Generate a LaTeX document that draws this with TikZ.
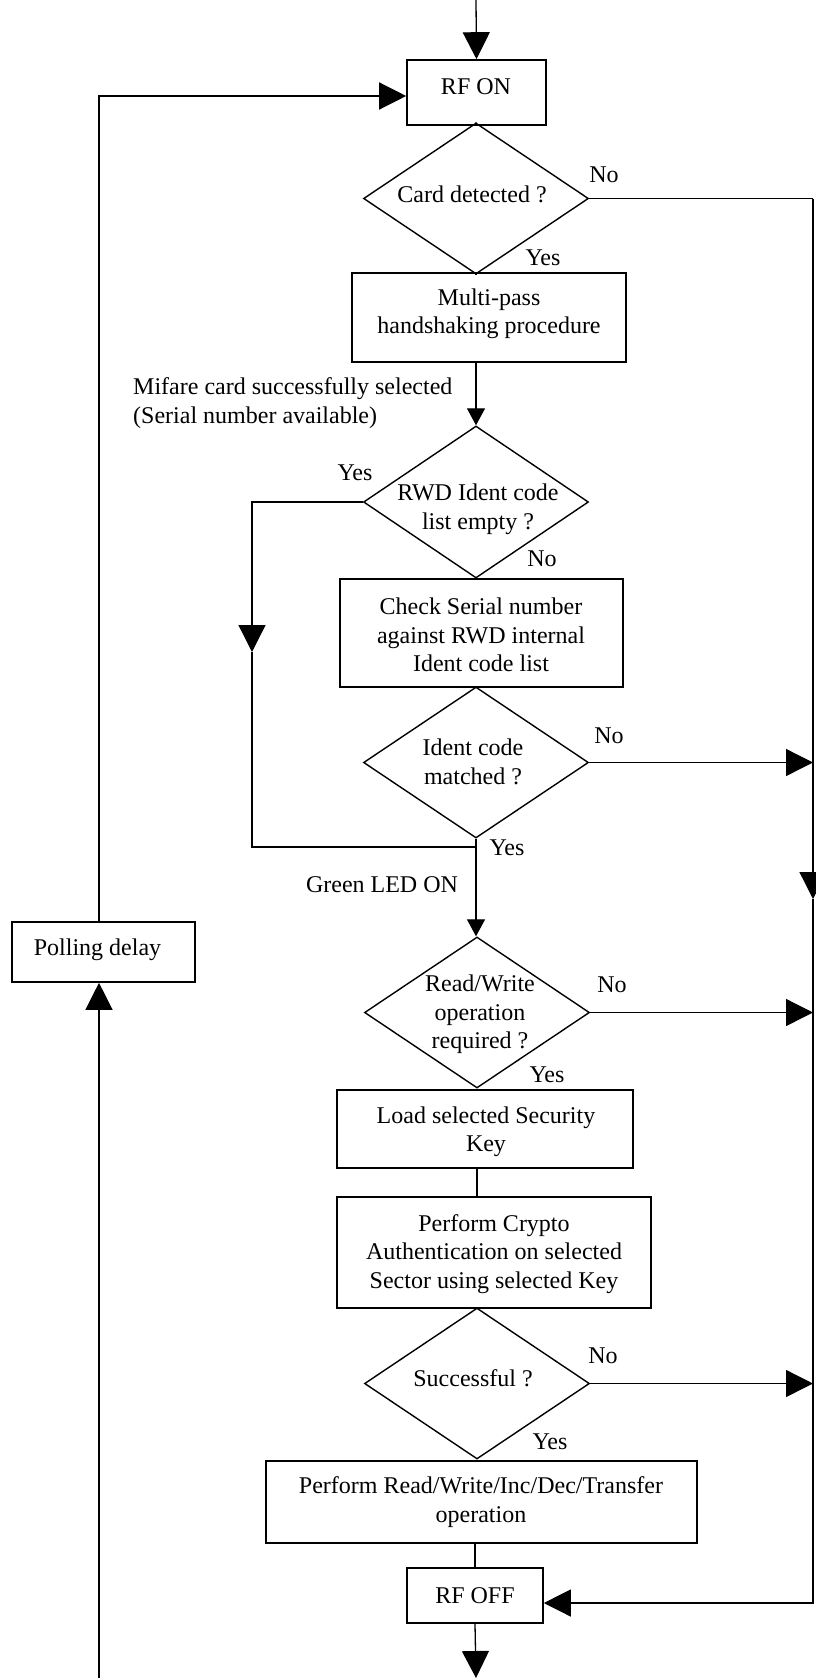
\documentclass[tikz,border=0pt]{standalone}
\usepackage{fontspec}
\setmainfont{Liberation Serif}
\usetikzlibrary{shapes.geometric,arrows.meta}
\tikzset{
  box/.style={draw, line width=1.6pt, rectangle, inner sep=0pt},
  dia/.style={draw, line width=1.4pt, diamond, inner sep=0pt, minimum width=225pt, minimum height=151pt},
  txt/.style={inner sep=0pt, align=center, font=\fontsize{24}{28.5}\selectfont},
  lbl/.style={inner sep=0pt, anchor=base, font=\fontsize{24}{28.5}\selectfont},
  conn/.style={line width=1.3pt},
  bigarr/.style={conn, -{Triangle[length=27pt,width=27pt]}},
  smallarr/.style={conn, -{Triangle[length=17pt,width=18pt]}}
}
\begin{document}
\begin{tikzpicture}[x=1pt,y=-1pt]
\useasboundingbox (0,0) rectangle (816,1678);
% boxes
\node[box, minimum width=139pt, minimum height=65pt] (rfon) at (476.5,92.5) {};
\node[dia] (cardd) at (476,198.5) {};
\node[box, minimum width=274pt, minimum height=89pt] (multi) at (489,317.5) {};
\node[dia, minimum height=152pt] (rwd) at (476,502) {};
\node[box, minimum width=283pt, minimum height=108pt] (check) at (481.5,633) {};
\node[dia] (ident) at (476,762.5) {};
\node[dia] (rw) at (477,1012.5) {};
\node[box, minimum width=296pt, minimum height=78pt] (loadkey) at (485,1129) {};
\node[box, minimum width=314pt, minimum height=111pt] (crypto) at (494,1252.5) {};
\node[dia] (succ) at (477,1383.5) {};
\node[box, minimum width=431pt, minimum height=82pt] (perform) at (481.5,1502) {};
\node[box, minimum width=136pt, minimum height=55pt] (rfoff) at (475,1595.5) {};
\node[box, minimum width=183pt, minimum height=60pt] (polling) at (103.5,952) {};
% texts inside
\node[lbl] (trfon) at (476,94) {RF ON};
\node[lbl] (tcard) at (472,202) {Card detected ?};
\node[txt] (tmulti) at (489,314) {Multi-pass\\handshaking procedure};
\node[txt] (trwd) at (478,509.5) {RWD Ident code\\list empty ?};
\node[txt] (tcheck) at (481,635) {Check Serial number\\against RWD internal\\Ident code list};
\node[txt] (tident) at (473,762) {Ident code\\matched ?};
\node[txt] (trw) at (480,1014.5) {Read/Write\\operation\\required ?};
\node[txt] (tload) at (486,1131.5) {Load selected Security\\Key};
\node[txt] (tcrypto) at (494,1254) {Perform Crypto\\Authentication on selected\\Sector using selected Key};
\node[lbl] (tsucc) at (473,1386) {Successful ?};
\node[txt] (tperform) at (481,1502) {Perform Read/Write/Inc/Dec/Transfer\\operation};
\node[lbl] (trfoff) at (475,1603) {RF OFF};
\node[lbl] (tpoll) at (97.5,955) {Polling delay};
% labels
\node[lbl] (no1) at (604,182) {No};
\node[lbl] (yes1) at (543,265) {Yes};
\node[txt, anchor=west, align=left] (mifare) at (133,403) {Mifare card successfully selected\\(Serial number available)};
\node[lbl] (yes2) at (355,480) {Yes};
\node[lbl] (no2) at (542,566) {No};
\node[lbl] (no3) at (609,743) {No};
\node[lbl] (yes3) at (507,855) {Yes};
\node[lbl] (green) at (382,892) {Green LED ON};
\node[lbl] (no4) at (612,992) {No};
\node[lbl] (yes4) at (547,1082) {Yes};
\node[lbl] (no5) at (603,1363) {No};
\node[lbl] (yes5) at (550,1449) {Yes};
% coordinates
\coordinate (top) at (476,0);
\coordinate (rt) at (813,198.5);
\coordinate (rarr) at (813,899);
\coordinate (rb) at (813,1603);
\coordinate (yl1) at (252,502);
\coordinate (yarr) at (252,652);
\coordinate (yl2) at (252,847);
\coordinate (join) at (476,847);
\coordinate (bot) at (476,1678);
\coordinate (lbot) at (99,1678);
\coordinate (ltop) at (99,96);
% connectors
\draw[bigarr] (top) -- (rfon.north);
\draw[conn] (rfon.south) -- (cardd.north);
\draw[conn] (cardd.south) -- (cardd.south |- multi.north);
\draw[smallarr] (multi.south -| rwd.north) -- (rwd.north);
\draw[conn] (rwd.south) -- (rwd.south |- check.north);
\draw[conn] (check.south -| ident.north) -- (ident.north);
\draw[smallarr] (ident.south) -- (ident.south |- rw.north);
\draw[conn] (rw.south) -- (rw.south |- loadkey.north);
\draw[conn] (loadkey.south -| rw.south) -- (crypto.north -| rw.south);
\draw[conn] (crypto.south -| succ.north) -- (succ.north);
\draw[conn] (succ.south) -- (succ.south |- perform.north);
\draw[conn] (perform.south -| rfoff.north) -- (rfoff.north);
\draw[bigarr] (rfoff.south) -- (bot);
% yes branch of RWD
\draw[bigarr] (rwd.west) -- (yl1) -- (yarr);
\draw[conn] (yarr) -- (yl2) -- (join);
% no branches to right
\draw[conn] (cardd.east) -- (rt);
\draw[bigarr] (rt) -- (rarr);
\draw[bigarr] (rarr) -- (rb) -- (rb -| rfoff.east);
\draw[bigarr] (ident.east) -- (ident.east -| rt);
\draw[bigarr] (rw.east) -- (rw.east -| rt);
\draw[bigarr] (succ.east) -- (succ.east -| rt);
% left loop
\draw[bigarr] (lbot) -- (lbot |- polling.south);
\draw[bigarr] (lbot |- polling.north) -- (ltop) -- (ltop -| rfon.west);
\end{tikzpicture}
\end{document}
